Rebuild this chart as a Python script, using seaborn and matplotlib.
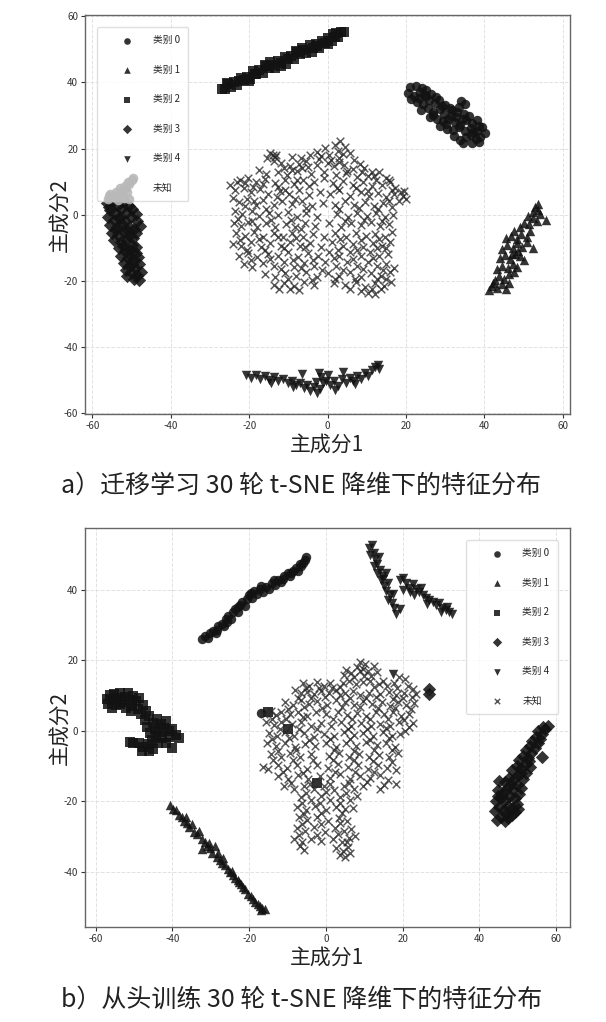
import matplotlib
matplotlib.use("Agg")
import matplotlib.pyplot as plt
import pandas as pd
import seaborn as sns

# ---------------- labels / text ----------------
CLASS_LABELS = ["类别 0", "类别 1", "类别 2", "类别 3", "类别 4", "未知"]
CLASS_MARKERS = ["o", "^", "s", "D", "v", "x"]
X_TICKS = [-60, -40, -20, 0, 20, 40, 60]
Y_TICKS_A = [-60, -40, -20, 0, 20, 40, 60]
Y_TICKS_B = [-40, -20, 0, 20, 40]
X_LABEL = "主成分1"
Y_LABEL = "主成分2"
CAPTION_A = "a）迁移学习 30 轮 t-SNE 降维下的特征分布"
CAPTION_B = "b）从头训练 30 轮 t-SNE 降维下的特征分布"

# ---------------- panel a (transfer learning) ----------------
A_CLASS0 = [(21.0,38.5),(22.5,39.0),(24.0,38.2),(25.2,37.6),(20.5,36.8),(22.0,36.0),(23.5,37.0),(25.0,35.8),
            (26.5,36.5),(21.2,35.0),(22.8,34.2),(24.3,33.5),(25.8,34.6),(27.3,33.8),(28.5,34.8),(30.0,33.2),
            (31.2,32.4),(34.0,34.5),(35.0,33.6),(33.5,32.5),(23.8,31.8),(25.5,32.2),(27.0,31.0),(28.6,32.0),
            (29.8,30.5),(31.5,30.0),(33.0,31.0),(34.8,30.6),(36.0,29.8),(26.2,29.6),(27.8,28.8),(29.5,28.2),
            (30.8,29.0),(32.4,28.0),(33.8,27.2),(35.4,28.5),(36.8,27.8),(38.0,28.6),(28.8,26.8),(30.5,26.0),
            (32.0,25.6),(33.6,26.4),(35.0,25.2),(36.5,26.2),(38.2,25.4),(39.5,26.6),(32.2,23.8),(33.8,22.6),
            (35.2,23.4),(36.6,24.0),(37.8,22.8),(39.0,23.5),(40.2,24.6),(34.5,21.8),(36.8,21.6),(38.6,22.0),
            (24.6,36.2),(27.6,35.6),(29.3,32.8),(31.8,31.8),(32.8,29.4),(34.6,28.9),(37.2,25.0),(30.2,27.5),
            (26.8,30.2),(23.2,35.4),(38.6,26.8)]
A_CLASS1 = [(41.2,-22.8),(42.0,-21.5),(43.2,-22.2),(44.5,-21.0),(45.6,-22.4),(42.6,-19.8),(43.8,-18.6),(45.0,-19.5),
            (46.4,-18.0),(47.6,-17.2),(43.2,-16.5),(44.6,-15.4),(46.0,-16.2),(47.2,-14.8),(48.4,-15.8),(44.0,-13.0),
            (45.3,-12.2),(46.6,-13.4),(47.8,-11.8),(49.0,-12.6),(50.0,-13.8),(44.6,-10.4),(45.8,-9.2),(47.2,-10.0),
            (48.4,-8.6),(49.6,-9.8),(51.0,-8.4),(52.5,-10.2),(45.4,-7.2),(46.8,-6.4),(48.2,-7.4),(49.4,-5.8),
            (50.8,-6.6),(51.6,-4.8),(47.6,-4.8),(49.0,-3.6),(50.2,-2.4),(51.5,-2.8),(52.4,-1.0),(53.4,-2.0),
            (55.6,-1.5),(51.2,-0.4),(52.4,0.8),(53.6,1.4),(52.8,2.4),(53.8,3.2),(54.2,0.2),(46.2,-20.6),
            (42.2,-20.6),(47.0,-12.0),(48.6,-11.0)]
A_CLASS2 = [(-27.0,38.0),(-26.2,37.9),(-25.4,39.5),(-24.6,38.7),(-23.8,40.0),(-23.0,39.3),(-22.2,41.4),(-21.4,40.7),
            (-20.6,41.7),(-19.8,40.9),(-19.0,43.4),(-18.2,42.5),(-17.4,43.7),(-16.6,42.9),(-15.8,45.0),(-15.0,44.3),
            (-14.2,45.4),(-13.4,44.3),(-12.6,46.6),(-11.8,45.8),(-11.0,47.8),(-10.2,47.0),(-9.4,47.9),(-8.6,47.0),
            (-7.8,49.3),(-7.0,48.5),(-6.2,49.8),(-5.4,48.9),(-4.6,51.2),(-3.8,50.3),(-3.0,51.5),(-2.2,50.5),
            (-1.4,52.6),(-0.6,51.9),(0.2,53.6),(1.0,52.6),(1.8,53.9),(2.6,53.7),(3.4,55.2),(4.2,55.3),
            (-25.8,39.9),(-20.0,40.4),(-16.0,45.4),(-12.0,44.9),(-8.0,49.6),(-4.0,49.3),(0.0,51.6),(2.2,54.9),
            (-22.6,40.3),(-18.6,42.7),(-14.6,46.1),(-10.6,45.6),(-6.6,50.3),(-2.6,51.1),(1.4,54.8)]
A_CLASS3 = [(-56.2,3.4),(-54.8,4.2),(-53.4,3.0),(-52.0,3.8),(-50.8,2.6),(-55.6,1.4),(-54.2,0.6),(-52.6,1.8),
            (-51.2,0.8),(-49.8,1.6),(-48.8,0.2),(-56.0,-0.8),(-54.6,-1.6),(-53.0,-0.6),(-51.6,-1.8),(-50.2,-0.8),
            (-48.6,-2.0),(-55.4,-3.2),(-53.8,-3.8),(-52.4,-2.8),(-50.8,-3.6),(-49.4,-4.2),(-48.8,-5.6),(-55.0,-5.4),
            (-53.6,-6.2),(-52.0,-5.2),(-50.6,-6.4),(-49.6,-7.2),(-54.4,-7.6),(-52.8,-8.4),(-51.4,-7.8),(-50.0,-9.2),
            (-53.2,-10.2),(-51.8,-11.0),(-50.4,-10.6),(-49.0,-11.6),(-52.6,-12.6),(-51.0,-13.2),(-49.6,-13.8),
            (-48.4,-12.8),(-52.0,-14.6),(-50.6,-15.4),(-49.2,-16.0),(-48.0,-15.0),(-51.4,-16.8),(-50.0,-17.6),
            (-48.6,-18.2),(-47.6,-17.2),(-49.4,-19.4),(-48.2,-19.8),(-55.8,2.2),(-53.2,-1.0),(-51.0,-4.8),
            (-52.2,-9.6),(-50.8,-12.0),(-49.8,-14.8),(-48.8,-9.8),(-54.0,-4.6),(-47.8,-3.4),(-51.2,-18.4)]
A_CLASS4 = [(-20.8,-48.6),(-19.6,-49.4),(-18.4,-48.4),(-17.2,-49.6),(-16.0,-48.8),(-15.0,-50.0),(-13.8,-49.2),
            (-12.6,-50.4),(-11.4,-49.6),(-10.2,-51.0),(-9.0,-50.2),(-8.0,-51.6),(-7.0,-50.8),(-6.0,-52.4),
            (-5.2,-51.4),(-4.4,-53.2),(-3.6,-52.2),(-2.8,-53.8),(-2.0,-52.6),(-1.2,-51.0),(-2.2,-47.8),(-1.6,-49.2),
            (-0.4,-50.4),(0.6,-51.6),(1.6,-50.2),(2.6,-51.8),(3.6,-49.8),(4.6,-50.8),(5.6,-49.4),(6.6,-50.2),
            (7.6,-48.8),(8.6,-49.6),(9.6,-48.0),(10.4,-48.8),(11.2,-47.0),(12.0,-46.2),(12.8,-45.4),(13.2,-46.6),
            (-6.6,-48.2),(4.0,-47.6),(2.0,-53.0),(-8.8,-52.2),(-14.4,-50.8),(0.0,-48.6),(7.0,-51.2),(-3.0,-50.6)]
A_UNKNOWN = [(3.2,22.4),(1.8,21.0),(4.4,20.6),(-0.6,20.2),(2.6,19.4),(-2.8,19.0),(5.6,18.6),(0.4,18.0),(-14.6,18.8),
             (-13.2,18.2),(-15.4,17.0),(-13.8,16.2),(-9.0,17.6),(-6.8,17.0),(-4.6,18.0),(-2.2,16.8),(0.8,16.4),
             (3.0,17.2),(6.8,16.4),(8.2,15.2),(-11.8,15.6),(-9.6,14.8),(-7.4,15.4),(-5.0,14.4),(-2.6,15.0),(1.6,14.6),
             (4.2,15.0),(6.4,13.8),(9.4,14.0),(11.2,13.0),(13.2,12.8),(-17.6,13.4),(-15.8,12.4),(-12.6,13.0),
             (-10.4,12.0),(-7.8,13.2),(-4.2,12.4),(-1.0,13.0),(2.2,12.0),(4.8,12.6),(7.6,11.4),(10.2,11.8),(12.4,10.6),
             (14.8,11.2),(16.0,9.8),
             (-22.4,10.6),(-20.2,11.2),(-18.4,10.0),(-16.0,10.8),(-13.4,9.6),(-11.0,10.4),(-8.6,9.2),(-6.2,10.6),
             (-3.4,9.8),(-0.8,11.0),(1.4,9.6),(3.8,10.2),(6.4,9.0),(9.0,9.8),(11.4,8.6),(13.8,9.0),(17.2,8.2),(18.6,7.0),
             (-25.0,9.0),(-23.6,7.6),(-21.4,8.2),(-19.6,6.8),(-17.2,7.8),(-15.2,6.4),(-12.2,7.2),(-9.8,6.2),(-7.2,7.6),
             (-4.8,6.0),(-2.0,7.0),(0.6,6.2),(3.0,7.4),(5.6,5.8),(8.4,6.8),(10.6,5.6),(12.8,6.6),(15.0,5.4),(17.0,6.2),
             (19.2,5.8),(20.0,4.6),(18.2,4.2),
             (-24.2,5.0),(-22.6,3.8),(-20.6,4.6),(-18.2,3.0),(-16.4,4.4),(-13.8,2.8),(-11.6,4.0),(-9.0,3.2),(-6.6,4.2),
             (-4.0,2.6),(-1.2,3.6),(1.8,2.8),(4.4,4.0),(6.8,3.0),(9.6,3.8),(11.8,2.6),(14.2,3.4),(16.4,2.4),
             (-23.6,1.2),(-21.8,0.2),(-19.4,1.0),(-17.6,-0.4),(-15.0,0.6),(-12.6,-0.2),(-10.2,0.8),(-7.8,-0.6),
             (-5.4,0.4),(-2.8,-0.8),(2.4,0.2),(5.2,-0.6),(7.6,0.6),(10.0,-0.4),(12.4,0.4),(14.6,-0.8),(16.8,0.0),
             (-24.0,-2.4),(-22.2,-3.4),(-20.2,-2.2),(-18.0,-3.6),(-15.8,-2.6),(-13.4,-3.8),(-10.6,-2.8),(-8.2,-3.6),
             (-5.8,-2.4),(-3.2,-3.4),(0.4,-2.6),(3.4,-3.6),(6.0,-2.4),(8.6,-3.2),(11.0,-2.2),(13.4,-3.4),(15.6,-2.8),
             (-23.4,-5.6),(-21.0,-6.4),(-18.8,-5.2),(-16.4,-6.6),(-13.8,-5.6),(-11.4,-6.8),(-9.0,-5.4),(-6.4,-6.6),
             (-3.8,-5.8),(-1.0,-6.8),(2.0,-5.6),(4.6,-6.6),(7.2,-5.4),(9.8,-6.4),(12.2,-5.8),(14.6,-6.8),(16.4,-5.2),
             (-24.2,-8.8),(-22.0,-9.6),(-19.6,-8.4),(-17.0,-9.8),(-14.6,-8.6),(-12.0,-9.4),(-9.6,-8.2),(-7.0,-9.6),
             (-4.4,-8.6),(-1.8,-9.8),(1.2,-8.4),(3.8,-9.6),(6.4,-8.8),(9.0,-9.8),(11.6,-8.6),(14.0,-9.4),(16.0,-8.2),
             (-22.6,-12.4),(-20.4,-11.6),(-18.0,-12.8),(-15.2,-11.8),(-12.6,-12.6),(-10.0,-11.4),(-7.6,-12.8),
             (-5.0,-11.6),(-2.4,-12.4),(0.4,-11.2),(3.0,-12.6),(5.8,-11.4),(8.4,-12.4),(10.8,-11.2),(13.2,-12.6),
             (15.4,-11.8),
             (-21.4,-14.8),(-19.2,-15.8),(-16.6,-14.6),(-13.8,-15.6),(-11.2,-14.4),(-8.6,-15.8),(-6.0,-14.6),
             (-3.4,-15.4),(-0.6,-14.2),(2.2,-15.6),(5.0,-14.4),(7.6,-15.4),(10.2,-14.2),(12.6,-15.6),(15.0,-14.8),
             (17.0,-16.0),
             (-16.0,-17.8),(-13.4,-18.8),(-10.8,-17.6),(-8.0,-18.6),(-5.4,-17.4),(-2.6,-18.8),(0.2,-17.6),(3.0,-18.6),
             (5.8,-17.4),(8.4,-18.8),(11.0,-17.6),(13.6,-18.4),(15.8,-17.2),
             (-13.8,-21.4),(-11.2,-20.6),(-8.6,-21.6),(-6.0,-20.4),(-3.4,-21.2),(1.6,-20.6),(4.4,-21.4),(7.2,-20.4),
             (9.6,-21.8),(12.0,-20.8),(14.4,-21.6),(16.2,-20.4),
             (8.4,-23.2),(10.4,-23.8),(12.2,-24.0),(13.6,-22.6),(-12.4,-22.4),(-7.2,-22.8),
             # denser clumps
             (-14.0,18.2),(-13.4,17.4),(-11.2,14.2),(-9.0,13.6),(-6.6,14.0),(-5.6,16.2),(-1.6,17.8),(0.2,15.6),
             (2.8,15.8),(4.0,18.4),(5.0,13.2),(8.8,12.8),(11.8,11.8),(15.6,10.4),(-21.0,9.6),(-19.0,8.4),(-23.2,9.8),
             (-16.6,9.2),(-12.6,8.4),(-10.8,7.4),(-7.8,10.4),(-4.8,8.6),(2.4,8.2),(7.2,8.0),(10.2,7.2),(16.4,7.4),
             (19.4,7.2),(-21.0,2.6),(-18.8,4.2),(-15.6,1.8),(-13.0,5.2),(-8.4,4.6),(-5.6,2.0),(3.0,1.6),(8.0,2.0),
             (12.8,1.8),(15.6,4.2),(-22.8,-1.2),(-19.4,-1.8),(-14.4,-1.6),(-9.4,-1.6),(-6.8,-4.4),(4.4,-1.8),
             (9.4,-1.6),(14.0,-2.0),(-22.4,-7.6),(-17.6,-7.4),(-12.6,-6.8),(-8.0,-7.2),(3.2,-7.4),(8.6,-7.6),
             (13.2,-7.4),(-20.6,-10.8),(-16.0,-10.6),(-11.2,-10.2),(-5.8,-9.8),(2.6,-10.6),(7.6,-10.6),(12.6,-10.2),
             (15.0,-10.0),(-19.6,-13.8),(-14.8,-13.4),(-8.8,-13.8),(-3.8,-13.6),(1.6,-13.2),(6.6,-13.4),(11.6,-13.0),
             (-12.0,-16.4),(-6.8,-16.2),(-1.4,-16.6),(4.0,-16.6),(9.0,-16.4),(14.2,-16.8),(-10.0,-19.4),(-4.0,-19.8),
             (2.0,-19.4),(7.0,-19.4),(12.6,-19.6),(-9.6,-22.6),(5.8,-22.6),(11.2,-22.4),(14.8,-19.6)]
A_LIGHT = [(-56.0,4.6),(-54.8,5.2),(-53.4,4.4),(-52.0,5.0),(-50.6,4.6),(-55.4,6.2),(-54.0,6.8),(-52.6,6.4),
           (-51.2,7.0),(-53.0,8.0),(-51.8,8.6),(-50.8,9.4),(-50.0,10.4),(-49.6,11.0),(-51.0,10.0),(-52.2,7.6),
           (-55.8,5.6),(-53.6,5.8)]

# ---------------- panel b (training from scratch) ----------------
B_CLASS0 = [(-32.4,26.0),(-31.6,26.8),(-30.8,26.2),(-30.2,27.8),(-29.4,28.4),(-28.6,27.6),(-28.0,29.6),(-27.2,30.4),
            (-26.6,29.8),(-26.0,31.8),(-25.4,32.6),(-24.8,31.6),(-24.2,33.8),(-23.6,34.6),(-23.0,33.6),(-22.4,35.6),
            (-21.8,36.4),(-21.2,35.4),(-20.6,37.4),(-20.0,38.6),(-19.2,37.6),(-18.8,39.6),(-18.0,38.8),(-17.2,40.2),
            (-16.4,39.4),(-15.6,40.8),(-14.8,40.2),(-14.0,41.8),(-13.2,41.2),(-12.4,42.8),(-11.6,42.2),(-10.8,43.8),
            (-10.0,44.6),(-9.4,43.8),(-8.6,45.4),(-7.8,46.2),(-7.2,45.4),(-6.6,46.8),(-6.0,47.6),(-5.4,48.4),
            (-5.2,49.2),(-25.8,30.8),(-22.8,35.0),(-19.6,39.0),(-13.6,42.6),(-9.0,44.8),(-28.4,28.6),(-16.8,41.0),
            (-11.2,43.0),(-6.8,47.4),(-16.8,5.0)]
B_CLASS1 = [(-40.6,-21.0),(-39.8,-22.2),(-39.2,-22.6),(-38.4,-23.8),(-37.6,-24.4),(-37.0,-25.6),(-36.2,-26.2),
            (-35.6,-27.4),(-35.0,-26.6),(-34.4,-28.6),(-33.6,-29.4),(-33.0,-28.4),(-32.4,-30.8),(-31.6,-31.6),
            (-32.2,-33.6),(-31.0,-32.8),(-30.2,-33.2),(-29.6,-34.6),(-29.0,-32.6),(-28.4,-35.8),(-27.6,-36.6),
            (-27.0,-37.4),(-26.4,-38.2),(-26.8,-36.0),(-25.6,-39.2),(-25.0,-40.2),(-24.2,-40.8),(-23.6,-41.8),
            (-23.0,-42.4),(-22.2,-43.6),(-21.6,-44.4),(-21.0,-45.0),(-20.2,-46.2),(-19.6,-46.8),(-19.0,-47.8),
            (-18.4,-48.6),(-17.8,-49.2),(-17.2,-49.8),(-16.6,-50.4),(-16.0,-50.6),(-17.0,-50.8),(-36.6,-24.6),
            (-30.6,-31.8),(-24.6,-39.8),(-22.6,-42.8),(-28.0,-34.6)]
B_CLASS2 = [(-57.2,9.0),(-56.4,10.0),(-55.6,8.6),(-56.8,7.6),(-55.2,10.4),(-54.4,9.2),(-53.6,10.6),(-54.8,7.2),
            (-53.2,8.0),(-52.4,9.6),(-51.6,10.8),(-51.0,8.8),(-50.2,9.8),(-49.4,8.4),(-48.6,9.2),(-50.6,7.0),
            (-49.0,6.2),(-47.8,7.4),(-52.0,6.4),(-55.8,6.4),(-46.8,5.6),(-48.2,4.8),(-46.0,4.2),(-47.2,3.0),
            (-45.2,2.2),(-44.0,3.2),(-43.0,2.0),(-41.8,2.8),(-44.6,0.6),(-43.4,-0.4),(-42.2,0.8),(-41.0,-0.2),
            (-40.0,0.4),(-39.2,-1.2),(-38.4,-2.0),(-40.8,-1.8),(-42.6,-2.2),(-44.2,-1.4),(-45.8,-0.6),(-46.6,1.0),
            (-45.4,-2.6),(-46.4,-3.8),(-47.6,-4.6),(-48.8,-3.6),(-50.2,-3.6),(-51.2,-3.2),(-45.0,-5.2),(-46.0,-5.8),
            (-40.0,-5.0),(-43.8,-3.4),(-41.6,-3.6),(-48.0,-5.8),(-53.8,7.6),(-50.8,5.6),
            (-15.0,5.2),(-10.0,0.5),(-2.2,-14.9)]
B_CLASS3 = [(44.6,-25.4),(45.6,-24.6),(46.6,-25.6),(47.6,-24.8),(48.6,-24.0),(49.4,-23.2),(44.2,-22.8),(45.2,-21.6),
            (46.4,-22.6),(47.4,-21.4),(48.6,-22.0),(49.8,-20.8),(44.4,-20.0),(45.6,-19.2),(46.8,-19.8),(48.0,-18.6),
            (49.2,-19.2),(50.4,-18.0),(45.0,-16.8),(45.2,-14.2),(46.4,-17.4),(47.4,-16.0),(48.6,-16.6),(49.8,-15.4),
            (50.8,-16.2),(46.6,-14.6),(47.8,-13.4),(49.0,-13.8),(50.2,-12.6),(51.4,-13.6),(52.2,-12.0),(48.6,-11.2),
            (49.8,-10.0),(51.0,-10.6),(52.2,-9.4),(53.2,-10.2),(50.4,-8.2),(51.4,-7.2),(52.6,-7.8),(53.6,-6.4),
            (56.4,-7.6),(52.2,-5.6),(53.2,-4.4),(54.4,-5.0),(55.2,-3.6),(53.8,-2.8),(54.8,-1.8),(55.8,-2.4),
            (56.4,-0.8),(55.4,0.0),(57.0,0.4),(57.8,1.4),(56.6,1.0),(47.0,-23.6),(46.0,-18.0),(48.2,-15.0),
            (51.0,-12.0),(53.0,-8.6),(44.8,-18.4),(50.0,-22.2),(27.0,11.8),(26.8,10.4)]
B_CLASS4 = [(11.3,51.8),(12.0,52.6),(12.6,50.4),(11.6,49.8),(12.8,48.6),(13.4,47.2),(12.6,46.6),(14.0,45.6),
            (13.2,44.8),(14.6,44.0),(15.8,44.8),(14.4,42.6),(15.2,41.0),(16.2,41.8),(15.6,39.6),(16.6,38.4),
            (16.2,37.0),(17.2,36.2),(17.8,34.8),(18.4,33.2),(19.2,34.6),(17.4,38.8),(13.8,49.4),(15.0,43.0),
            (19.2,42.8),(20.2,43.4),(20.8,41.8),(20.0,40.0),(21.6,40.6),(22.6,41.6),(23.4,40.2),(24.2,39.2),
            (23.0,38.6),(25.2,38.4),(26.0,37.6),(27.0,37.0),(26.4,36.0),(28.0,36.4),(28.8,35.6),(29.6,36.2),
            (30.4,34.8),(31.2,34.2),(32.0,33.6),(32.8,33.0),(31.6,35.0),(30.0,33.8),(22.0,39.4),(24.8,40.6),
            (17.6,16.0)]
B_UNKNOWN = [(9.0,19.6),(10.2,18.8),(12.6,18.4),(8.2,18.0),
             (5.2,17.2),(6.6,16.4),(8.8,16.8),(11.0,17.0),(13.4,16.6),(4.6,15.8),(10.0,15.4),(19.0,15.2),(20.6,14.6),
             (4.4,13.6),(6.0,14.2),(7.8,13.2),(9.6,13.8),(11.6,14.0),(13.8,13.2),(16.0,12.8),(17.8,13.6),(21.4,12.8),
             (22.6,11.8),(-6.0,13.4),(-4.4,12.6),(-2.4,13.8),(-0.6,12.6),(1.6,12.2),
             (-8.0,11.4),(-6.6,10.6),(-4.8,11.0),(-3.0,10.4),(-1.2,11.2),(0.8,10.6),(2.6,11.6),(5.0,10.8),(7.0,11.2),
             (9.0,10.2),(11.2,10.8),(14.2,10.4),(16.4,11.0),(18.4,10.2),(20.4,10.8),(22.4,9.6),(23.6,10.4),(26.8,10.6),
             (-10.6,8.2),(-8.6,7.4),(-6.6,8.6),(-4.4,7.6),(-2.2,8.4),(0.2,7.4),(2.6,8.8),(5.0,8.0),(7.4,7.2),(9.6,8.4),
             (12.0,7.6),(14.6,8.0),(16.8,7.0),(18.8,8.2),(21.0,7.4),(23.0,7.8),
             (-16.2,4.8),(-14.4,5.6),(-13.0,4.4),(-11.6,5.2),(-9.4,4.6),(-7.2,5.4),(-4.8,4.2),(-2.6,5.2),(0.0,4.6),
             (3.2,5.4),(5.6,4.4),(8.0,5.0),(10.4,4.2),(13.0,5.2),(15.2,4.6),(17.4,5.4),(19.6,4.2),(21.6,4.8),
             (-15.6,2.4),(-13.6,1.6),(-11.8,2.6),(-8.8,1.8),(-6.4,2.4),(-3.8,1.4),(-1.2,2.2),(1.4,1.2),(4.0,2.4),
             (6.6,1.4),(9.2,2.2),(11.8,1.2),(14.2,2.0),(16.6,1.4),(19.0,2.4),(21.6,1.0),(22.8,2.2),
             (-14.8,-0.6),(-12.8,-1.6),(-10.6,-0.4),(-8.2,-1.4),(-5.6,-0.6),(-3.2,-1.8),(-0.6,-0.8),(2.0,-1.6),
             (4.6,-0.4),(7.2,-1.2),(9.8,-0.6),(12.4,-1.6),(14.8,-0.4),(17.2,-1.4),(19.4,-0.8),
             (-15.4,-3.6),(-13.0,-4.4),(-10.6,-3.4),(-8.0,-4.6),(-5.4,-3.8),(-2.8,-4.4),(0.0,-3.4),(2.6,-4.6),
             (5.2,-3.6),(7.8,-4.4),(10.4,-3.2),(13.2,-4.0),(15.6,-3.4),(18.0,-4.6),
             (-14.2,-6.6),(-11.8,-7.4),(-9.4,-6.4),(-6.8,-7.6),(-4.0,-6.6),(0.8,-7.2),(3.4,-6.4),(6.0,-7.6),
             (8.6,-6.6),(11.2,-7.4),(13.8,-6.8),(16.4,-7.6),(18.8,-6.4),
             (-16.4,-10.2),(-15.2,-11.0),(-12.6,-9.6),(-10.2,-10.6),(-7.6,-9.8),(-5.0,-10.8),(-2.2,-9.6),(0.6,-10.6),
             (3.2,-9.4),(5.8,-10.4),(8.4,-9.8),(11.0,-10.8),(13.6,-9.6),(16.0,-10.6),(18.2,-11.2),
             (-12.4,-12.8),(-9.8,-13.6),(-7.2,-12.6),(-4.6,-13.8),(-1.6,-12.8),(1.2,-13.4),(3.8,-12.4),(6.4,-13.6),
             (9.0,-12.8),(11.6,-13.4),(14.0,-12.6),(16.2,-14.0),(18.4,-15.2),
             (-10.8,-15.8),(-8.2,-16.4),(-5.6,-15.6),(-3.2,-16.6),(-0.4,-15.8),(2.2,-16.8),(4.8,-15.6),(7.4,-16.6),
             (9.8,-15.8),(14.2,-16.4),
             (-6.4,-18.8),(-4.0,-19.6),(-1.4,-18.6),(1.2,-19.8),(3.8,-18.8),(6.4,-19.6),(8.2,-18.4),
             (-7.6,-21.6),(-5.2,-22.4),(-2.8,-21.4),(0.0,-22.6),(2.6,-21.6),(5.0,-22.2),(7.0,-21.8),
             (-7.0,-24.6),(-4.8,-25.4),(-2.4,-24.4),(0.6,-25.6),(3.4,-24.8),(5.4,-25.6),
             (-7.6,-27.6),(-5.4,-28.4),(-3.0,-27.4),(-0.2,-28.6),(2.4,-27.6),(4.8,-28.4),(6.6,-27.8),
             (-8.2,-30.8),(-6.2,-31.6),(-4.0,-30.6),(-1.4,-31.4),(1.8,-30.6),(4.2,-31.6),(6.0,-30.4),(7.6,-29.8),
             (-6.8,-32.8),(2.6,-33.2),(4.4,-34.0),(5.8,-33.0),(3.8,-35.2),(6.4,-34.6),
             # denser clumps
             (9.6,17.4),(11.8,15.6),(7.4,15.2),(12.6,12.4),(15.0,14.2),(18.6,12.2),(-5.2,12.0),(-1.8,12.0),(1.2,13.6),
             (3.6,12.4),(-7.4,9.2),(-3.8,9.4),(-0.2,9.6),(3.8,10.0),(6.2,9.4),(10.4,9.2),(13.0,9.6),(17.4,9.0),
             (20.2,9.4),(-9.8,6.2),(-5.8,6.6),(-1.0,6.4),(4.2,6.8),(8.8,6.6),(13.6,6.4),(18.0,6.4),(22.2,6.2),
             (-14.0,3.4),(-10.4,3.2),(-6.0,3.8),(1.8,3.4),(6.8,3.2),(11.6,3.4),(16.2,3.2),(20.4,3.0),(-12.0,0.4),
             (-7.0,0.6),(-2.4,0.4),(5.8,0.6),(10.6,0.4),(15.6,0.8),(20.6,-0.2),(-14.0,-2.4),(-9.6,-2.2),(-4.4,-2.6),
             (1.2,-2.4),(6.4,-2.4),(11.6,-2.6),(16.4,-2.2),(-12.6,-5.8),(-7.8,-5.6),(2.0,-5.6),(7.2,-5.8),(12.6,-5.4),
             (17.2,-5.6),(-13.8,-8.4),(-8.6,-8.2),(-3.4,-8.4),(1.8,-8.2),(7.2,-8.4),(12.2,-8.6),(17.2,-9.0),
             (-11.2,-11.8),(-6.0,-12.0),(2.4,-11.8),(7.6,-11.6),(12.6,-11.8),(-9.0,-14.8),(-4.2,-15.0),(1.0,-15.0),
             (6.0,-14.8),(10.8,-14.6),(15.2,-15.4),(-5.2,-17.6),(0.0,-17.4),(5.2,-17.8),(-6.2,-20.4),(-1.6,-20.6),
             (3.6,-20.4),(-5.8,-23.6),(-1.2,-23.4),(4.2,-23.4),(-6.2,-26.4),(-1.4,-26.6),(3.6,-26.2),(-7.0,-29.6),
             (-2.2,-29.6),(3.2,-29.4),(5.4,-31.6),(-5.6,-33.8),(5.0,-35.8)]

A_SERIES = [A_CLASS0, A_CLASS1, A_CLASS2, A_CLASS3, A_CLASS4, A_UNKNOWN]
B_SERIES = [B_CLASS0, B_CLASS1, B_CLASS2, B_CLASS3, B_CLASS4, B_UNKNOWN]

# ---------------- style ----------------
sns.set_theme(style="whitegrid", rc={
    "grid.linestyle": "--", "grid.color": "#e2e2e2", "grid.linewidth": 0.7,
    "axes.edgecolor": "#555555", "axes.linewidth": 1.0,
})
CJK = ["Noto Sans CJK SC", "DejaVu Sans"]
plt.rcParams["font.family"] = CJK
plt.rcParams["axes.unicode_minus"] = False

CLASS_COLOR = "#121212"
UNK_COLOR = "#262626"
LIGHT_COLOR = "#b9b9b9"

fig = plt.figure(figsize=(6.06, 10.22), dpi=100)
ax_a = fig.add_axes([0.1403, 0.5949, 0.800, 0.3904])
ax_b = fig.add_axes([0.1403, 0.0929, 0.800, 0.3905])


def draw_panel(ax, series, light=None):
    for label, marker, pts in zip(CLASS_LABELS, CLASS_MARKERS, series):
        df = pd.DataFrame(pts, columns=["x", "y"])
        if marker == "x":
            sns.scatterplot(data=df, x="x", y="y", marker="x", color=UNK_COLOR, s=30,
                            linewidth=1.05, alpha=0.78, label=label, ax=ax)
        else:
            sns.scatterplot(data=df, x="x", y="y", marker=marker, color=CLASS_COLOR, s=46,
                            linewidth=0, alpha=0.86, label=label, ax=ax)
    if light is not None:
        dfl = pd.DataFrame(light, columns=["x", "y"])
        sns.scatterplot(data=dfl, x="x", y="y", marker="o", color=LIGHT_COLOR, s=48,
                        linewidth=0, alpha=0.9, legend=False, zorder=6, ax=ax)
    ax.set_xlabel(X_LABEL, fontsize=15, color="#222222", labelpad=2)
    ax.set_ylabel(Y_LABEL, fontsize=15, color="#222222")
    ax.yaxis.set_label_coords(-0.03, 0.5)
    ax.set_xticks(X_TICKS)
    ax.tick_params(axis="both", labelsize=7, colors="#333333", length=3, width=0.8,
                   pad=2, bottom=True, left=True)
    for sp in ax.spines.values():
        sp.set_color("#666666")
        sp.set_linewidth(1.0)
    ax.grid(True, linestyle="--", color="#e2e2e2", linewidth=0.7)


draw_panel(ax_a, A_SERIES, A_LIGHT)
ax_a.set_xlim(-61.9, 61.8)
ax_a.set_ylim(-60.3, 60.4)
ax_a.set_yticks(Y_TICKS_A)

draw_panel(ax_b, B_SERIES)
ax_b.set_xlim(-62.8, 63.6)
ax_b.set_ylim(-55.7, 57.5)
ax_b.set_yticks(Y_TICKS_B)

leg_kw = dict(prop={"family": CJK, "size": 7}, markerscale=0.7, labelspacing=2.0,
              handlelength=4.5, handletextpad=0.35, borderpad=0.9, borderaxespad=1.2,
              frameon=True, framealpha=0.8, edgecolor="#d8d8d8", fancybox=True, facecolor="white")
ax_a.legend(loc="upper left", **leg_kw)
ax_b.legend(loc="upper right", **leg_kw)

fig.text(0.497, 0.525, CAPTION_A, ha="center", va="center", fontsize=18, color="#222222")
fig.text(0.497, 0.022, CAPTION_B, ha="center", va="center", fontsize=18, color="#222222")

fig.savefig("out.png", dpi=100, facecolor="white")
